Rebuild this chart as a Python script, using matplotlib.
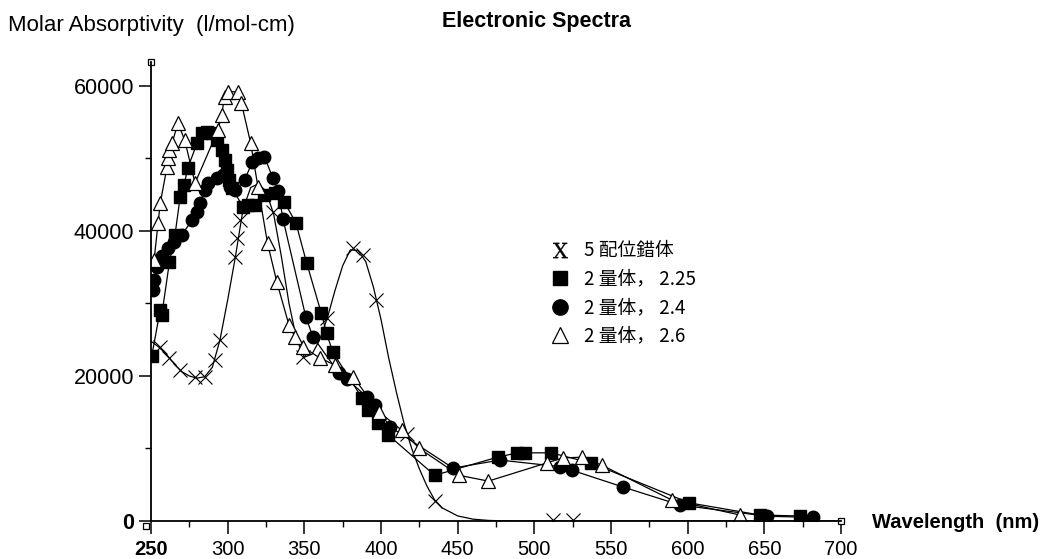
import matplotlib
matplotlib.use("Agg")
import matplotlib.pyplot as plt
from matplotlib.lines import Line2D
from matplotlib.ticker import MultipleLocator

plt.rcParams['font.family'] = ['Liberation Sans', 'Noto Sans CJK JP', 'DejaVu Sans']
plt.rcParams['mathtext.fontset'] = 'dejavuserif'

# legend labels
labels = ['5 配位錯体', '2 量体， 2.25', '2 量体， 2.4', '2 量体， 2.6']

# 5-coordinate complex: measured points and traced curve
x5_pts = [256, 262, 269, 279, 285, 292, 295, 305, 306, 308, 329.5, 349, 365,
          381.7, 388, 397, 417, 435, 512, 525]
y5_pts = [24000, 22500, 20800, 19900, 19900, 22200, 25000, 36400, 39000, 41500,
          42600, 22600, 28000, 37600, 36700, 30500, 12000, 2800, 150, 150]
x5_curve = [250, 255, 260, 265, 270, 275, 280, 285, 290, 295, 300, 305, 310, 315,
            320, 325, 330, 335, 340, 345, 350, 355, 360, 365, 370, 375, 380, 385,
            390, 395, 400, 405, 410, 415, 420, 425, 430, 435, 440, 450, 460, 470,
            480, 500, 700]
y5_curve = [24800, 24000, 23000, 21700, 20600, 20000, 19700, 19900, 21200, 25000,
            30500, 36400, 43000, 46000, 46500, 45500, 42300, 36500, 30000, 25000,
            22600, 23000, 25000, 28000, 31800, 35200, 37400, 37300, 35800, 32300,
            27800, 22500, 17800, 13500, 10000, 7200, 4800, 2900, 1800, 700, 250, 80,
            20, 0, 0]

# dimer 2.25 (squares)
xs = [250.5, 256, 257, 262, 265.6, 269, 271.5, 274, 280, 283, 286.5, 290, 293, 296,
      298, 299.5, 301, 303, 310, 313, 318, 324, 331, 337, 344.5, 351.5, 361, 364.5,
      368.5, 387.5, 391.5, 398, 404.5, 435, 476, 489, 494, 511, 537, 601, 647, 673]
ys = [22800, 29100, 28400, 35700, 39400, 44700, 46300, 48700, 52100, 53500, 53700,
      53500, 52500, 51200, 49800, 48400, 47000, 45900, 43300, 43600, 43600, 45000,
      45300, 44000, 41100, 35600, 28700, 25900, 23300, 17000, 15300, 13500, 11900,
      6300, 8800, 9400, 9400, 9400, 8000, 2500, 830, 690]

# dimer 2.4 (circles)
xc = [251, 252, 254, 257, 261, 265, 270, 277, 280, 282, 285, 287, 293, 297, 301.5,
      305, 311, 316, 320, 324, 329.5, 333, 336, 351, 355.6, 372.5, 377.7, 390.8,
      396, 405.8, 447, 477.5, 516.6, 524.5, 557.7, 595, 652, 681.6]
yc = [31800, 33200, 35000, 36500, 37700, 38500, 39500, 41500, 42600, 43800, 45600,
      46600, 47300, 47700, 46100, 45600, 47000, 49500, 50000, 50200, 47300, 45500,
      41700, 28100, 25400, 20400, 19600, 17100, 16000, 13000, 7300, 8400, 7500,
      7000, 4700, 2200, 650, 500]

# dimer 2.6 (open triangles)
xt = [252, 254.6, 256, 260.4, 261, 262, 263.7, 267.6, 272, 278.7, 293.7, 296, 298,
      300, 306.7, 309, 315, 319.8, 326, 332, 340, 344, 349, 360, 370, 381.7, 399,
      413.6, 425, 451, 470, 508, 518.6, 531, 544, 589.6, 634]
yt = [36000, 41100, 43800, 48800, 50000, 51200, 52100, 54900, 52500, 46600, 53900,
      56000, 58500, 59200, 59200, 57600, 52100, 46000, 38300, 33000, 27000, 25400,
      24000, 22500, 21500, 19900, 15000, 12500, 10000, 6300, 5500, 8000, 8700,
      8800, 7700, 2900, 830]

x_ticks = [250, 300, 350, 400, 450, 500, 550, 600, 650, 700]
y_ticks = [0, 20000, 40000, 60000]

fig = plt.figure(figsize=(10.43, 5.59), dpi=100)
ax = fig.add_axes([0.1448, 0.068, 0.6615, 0.821])

ax.plot(x5_curve, y5_curve, color='black', lw=0.9)
ax.plot(x5_pts, y5_pts, ls='none', marker='x', ms=10, mew=0.8, color='black')
ax.plot(xs, ys, color='black', lw=0.9, marker='s', ms=8.5)
ax.plot(xc, yc, color='black', lw=0.9, marker='o', ms=9)
ax.plot(xt, yt, color='black', lw=0.9, marker='^', ms=10, mfc='white', mec='black', mew=0.9)

ax.set_xlim(250, 700)
ax.set_ylim(0, 63300)
ax.set_xticks(x_ticks)
ax.set_xticklabels([str(v) for v in x_ticks])
ax.set_yticks(y_ticks)
ax.set_yticklabels([str(v) for v in y_ticks])
ax.xaxis.set_minor_locator(MultipleLocator(25))
ax.yaxis.set_minor_locator(MultipleLocator(10000))
ax.tick_params(axis='both', which='major', direction='out', length=9, width=1.1,
               color='black')
ax.tick_params(axis='both', which='minor', direction='out', length=4, width=1.0)
ax.tick_params(axis='x', pad=5, labelsize=14.5)
ax.tick_params(axis='y', pad=3, labelsize=15.5)
ax.get_xticklabels()[0].set_fontweight('bold')
ax.get_yticklabels()[0].set_fontweight('bold')

for side in ['top', 'right']:
    ax.spines[side].set_visible(False)
for side in ['left', 'bottom']:
    ax.spines[side].set_linewidth(1.3)

# small open squares at the axis ends
for px, py in [(0, 1), (1, 0), (-0.008, -0.012)]:
    ax.plot([px], [py], marker='s', ms=5, mfc='white', mec='black', mew=0.9,
            transform=ax.transAxes, clip_on=False)

handles = [
    Line2D([], [], ls='none', marker='$\\mathrm{X}$', ms=11, mew=0.2, color='black'),
    Line2D([], [], ls='none', marker='s', ms=10, color='black'),
    Line2D([], [], ls='none', marker='o', ms=11, color='black'),
    Line2D([], [], ls='none', marker='^', ms=11, mfc='white', mec='black', mew=0.9),
]
ax.legend(handles, labels, loc='upper left', bbox_to_anchor=(0.519, 0.587),
          bbox_transform=fig.transFigure, frameon=False,
          handlelength=1.0, handletextpad=0.8, labelspacing=0.4, borderpad=0,
          prop={'family': ['Noto Sans CJK JP', 'DejaVu Sans'], 'size': 13.5})

fig.text(0.514, 0.962, 'Electronic Spectra', ha='center', va='center',
         fontsize=15.5, fontweight='bold')
fig.text(0.008, 0.955, 'Molar Absorptivity  (l/mol-cm)', ha='left', va='center',
         fontsize=16)
fig.text(0.836, 0.066, 'Wavelength  (nm)', ha='left', va='center',
         fontsize=14.5, fontweight='bold')

fig.savefig('out.png', dpi=100)
